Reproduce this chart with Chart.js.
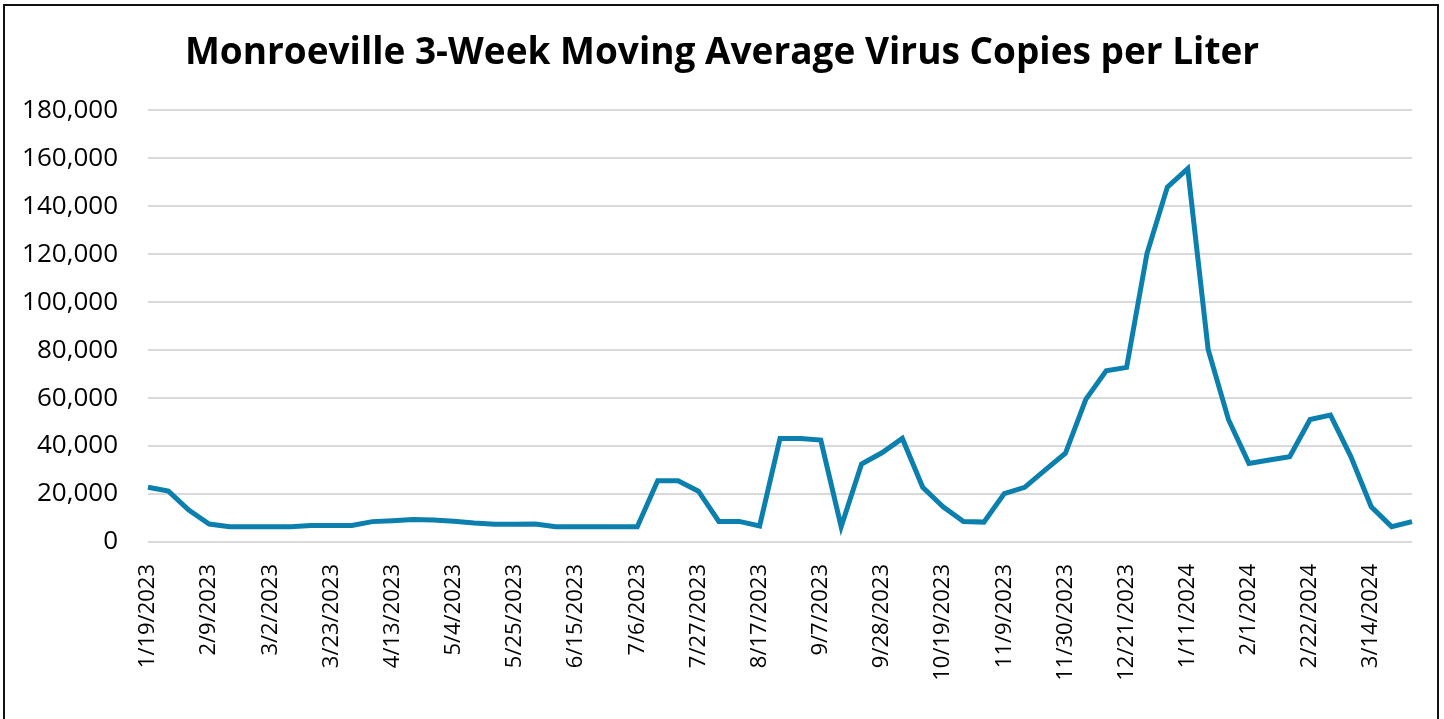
<!DOCTYPE html>
<html>
<head>
<meta charset="utf-8">
<script src="https://cdn.jsdelivr.net/npm/chart.js@4.4.1/dist/chart.umd.min.js"></script>
<style>
  html, body { margin: 0; padding: 0; background: #fff; overflow: hidden; }
  #wrap { position: relative; width: 1444px; height: 719px; }
  #frame { position: absolute; left: 3px; top: 4px; width: 1436px; height: 760px; border: 2px solid #111; box-sizing: border-box; pointer-events: none; }
  canvas { position: absolute; left: 0; top: 0; }
</style>
</head>
<body>
<div id="wrap">
  <canvas id="c" width="1444" height="719"></canvas>
  <div id="frame"></div>
</div>
<script>
const chartTitle = "Monroeville 3-Week Moving Average Virus Copies per Liter";

const dates = [
  "1/19/2023","1/26/2023","2/2/2023","2/9/2023","2/16/2023","2/23/2023","3/2/2023","3/9/2023","3/16/2023","3/23/2023",
  "3/30/2023","4/6/2023","4/13/2023","4/20/2023","4/27/2023","5/4/2023","5/11/2023","5/18/2023","5/25/2023","6/1/2023",
  "6/8/2023","6/15/2023","6/22/2023","6/29/2023","7/6/2023","7/13/2023","7/20/2023","7/27/2023","8/3/2023","8/10/2023",
  "8/17/2023","8/24/2023","8/31/2023","9/7/2023","9/14/2023","9/21/2023","9/28/2023","10/5/2023","10/12/2023","10/19/2023",
  "10/26/2023","11/2/2023","11/9/2023","11/16/2023","11/23/2023","11/30/2023","12/7/2023","12/14/2023","12/21/2023","12/28/2023",
  "1/4/2024","1/11/2024","1/18/2024","1/25/2024","2/1/2024","2/8/2024","2/15/2024","2/22/2024","2/29/2024","3/7/2024",
  "3/14/2024","3/21/2024","3/28/2024"
];

const copiesPerLiter = [
  22800, 21200, 13300, 7500, 6400, 6400, 6400, 6400, 6900, 6900,
  6900, 8500, 8900, 9400, 9200, 8700, 7900, 7400, 7400, 7500,
  6400, 6400, 6400, 6400, 6400, 25500, 25500, 21200, 8600, 8600,
  6700, 43200, 43200, 42500, 6400, 32500, 37200, 43200, 22800, 14700,
  8500, 8300, 20200, 22800, 30000, 37000, 59500, 71400, 72800, 120300,
  148000, 155700, 80300, 51000, 32800, 34200, 35600, 51100, 52900, 35600,
  14700, 6400, 8500
];

const labelEvery = 3;
const yMax = 180000;
const yStep = 20000;

new Chart(document.getElementById('c'), {
  type: 'line',
  data: {
    labels: dates,
    datasets: [{
      data: copiesPerLiter,
      yAxisID: 'y',
      borderColor: '#0b7fae',
      borderWidth: 5,
      pointRadius: 0,
      tension: 0,
      fill: false,
      borderJoinStyle: 'miter'
    }]
  },
  options: {
    responsive: false,
    animation: false,
    devicePixelRatio: 1,
    layout: { padding: { left: 20, right: 20, top: 0, bottom: 0 } },
    plugins: {
      legend: { display: false },
      tooltip: { enabled: false },
      title: {
        display: true,
        text: chartTitle,
        color: '#000',
        font: { family: 'Open Sans', size: 37, weight: 'bold' },
        padding: { top: 31, bottom: 35 }
      }
    },
    scales: {
      x: {
        type: 'category',
        offset: false,
        grid: { display: false, drawTicks: false },
        border: { display: false },
        ticks: {
          autoSkip: false,
          maxRotation: 90,
          minRotation: 90,
          padding: 22,
          color: '#000',
          font: { family: 'Open Sans', size: 22 },
          callback: function(v, i) { return i % labelEvery === 0 ? dates[i] : ''; }
        },
        afterFit: function(s) { s.height = 719 - 542; s.paddingLeft = 0; s.paddingRight = 0; }
      },
      y: {
        position: 'left',
        min: 0,
        max: yMax,
        grid: { color: '#d9d9d9', lineWidth: 2, drawTicks: false },
        border: { display: false },
        ticks: {
          stepSize: yStep,
          padding: 30,
          color: '#000',
          font: { family: 'Open Sans', size: 26 },
          callback: function(v) { return Number(v).toLocaleString('en-US'); }
        },
        afterFit: function(s) { s.width = 148 - 20; }
      },
      yRight: {
        type: 'linear',
        position: 'right',
        display: true,
        grid: { display: false, drawTicks: false },
        border: { display: false },
        ticks: { display: false },
        afterFit: function(s) { s.width = 12; s.paddingTop = 0; s.paddingBottom = 0; }
      }
    }
  }
});
</script>
</body>
</html>
